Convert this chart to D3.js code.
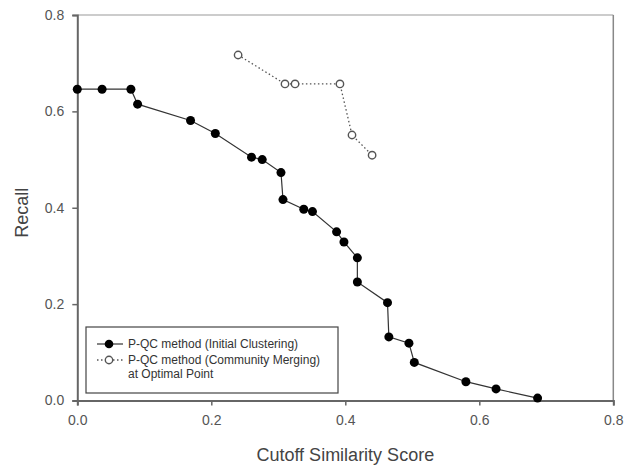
<!DOCTYPE html>
<html>
<head>
<meta charset="utf-8">
<script src="https://cdn.jsdelivr.net/npm/d3@7"></script>
<style>
  body { margin: 0; background: #fff; }
  text { font-family: Arial, "Liberation Sans", sans-serif; }
</style>
</head>
<body>
<svg id="chart"></svg>
<script>
// data
const initX = [0.000, 0.037, 0.080, 0.090, 0.169, 0.206, 0.260, 0.276, 0.304, 0.307, 0.338, 0.351,
               0.387, 0.398, 0.418, 0.418, 0.463, 0.465, 0.495, 0.503, 0.580, 0.625, 0.687];
const initY = [0.646, 0.646, 0.646, 0.615, 0.581, 0.554, 0.505, 0.500, 0.473, 0.417, 0.397, 0.392,
               0.350, 0.329, 0.296, 0.246, 0.203, 0.132, 0.119, 0.079, 0.039, 0.024, 0.005];
const mergeX = [0.240, 0.310, 0.325, 0.392, 0.410, 0.440];
const mergeY = [0.717, 0.657, 0.657, 0.657, 0.551, 0.509];
const xTicks = [0.0, 0.2, 0.4, 0.6, 0.8];
const yTicks = [0.0, 0.2, 0.4, 0.6, 0.8];
const legendLabels = ["P-QC method (Initial Clustering)", "P-QC method (Community Merging)", "at Optimal Point"];

const width = 633, height = 465;
const margin = { top: 15, right: 20, bottom: 64.5, left: 77.3 };

const svg = d3.select('#chart')
    .attr('width', width)
    .attr('height', height);

const xScale = d3.scaleLinear().domain([0, 0.8]).range([margin.left, 613.3]);
const yScale = d3.scaleLinear().domain([0, 0.8]).range([400.5, margin.top]);

// frame (top / right lighter)
svg.append('line')
    .attr('x1', xScale(0)).attr('x2', xScale(0.8))
    .attr('y1', yScale(0.8)).attr('y2', yScale(0.8))
    .attr('stroke', '#999').attr('stroke-width', 1.2);
svg.append('line')
    .attr('x1', xScale(0.8)).attr('x2', xScale(0.8))
    .attr('y1', yScale(0.8)).attr('y2', yScale(0))
    .attr('stroke', '#888').attr('stroke-width', 1.5);

// axes
const xAxis = svg.append('g')
    .attr('transform', `translate(0,${yScale(0)})`)
    .call(d3.axisBottom(xScale).tickValues(xTicks).tickFormat(d3.format('.1f')).tickSize(5).tickPadding(10));
const yAxis = svg.append('g')
    .attr('transform', `translate(${xScale(0)},0)`)
    .call(d3.axisLeft(yScale).tickValues(yTicks).tickFormat(d3.format('.1f')).tickSize(5).tickPadding(8));

[xAxis, yAxis].forEach(a => {
    a.select('.domain').attr('stroke', '#666').attr('stroke-width', 2);
    a.selectAll('.tick line').attr('stroke', '#666').attr('stroke-width', 1.5);
    a.selectAll('.tick text').attr('fill', '#555').style('font-size', '14px');
});

// axis titles
svg.append('text')
    .attr('x', (xScale(0) + xScale(0.8)) / 2)
    .attr('y', 461)
    .attr('text-anchor', 'middle')
    .attr('fill', '#444')
    .style('font-size', '18px')
    .text('Cutoff Similarity Score');

svg.append('text')
    .attr('transform', `translate(28,${yScale(0.4) + 5}) rotate(-90)`)
    .attr('text-anchor', 'middle')
    .attr('fill', '#444')
    .style('font-size', '18px')
    .text('Recall');

// series
const initData = initX.map((x, i) => ({ x: x, y: initY[i] }));
const mergeData = mergeX.map((x, i) => ({ x: x, y: mergeY[i] }));

const line = d3.line().x(d => xScale(d.x)).y(d => yScale(d.y));

svg.append('path')
    .datum(initData)
    .attr('d', line)
    .attr('fill', 'none')
    .attr('stroke', '#333')
    .attr('stroke-width', 1.2);

svg.append('path')
    .datum(mergeData)
    .attr('d', line)
    .attr('fill', 'none')
    .attr('stroke', '#555')
    .attr('stroke-width', 1.3)
    .attr('stroke-dasharray', '1.5,2.5');

svg.selectAll('.init-dot')
    .data(initData)
    .enter()
    .append('circle')
    .attr('cx', d => xScale(d.x))
    .attr('cy', d => yScale(d.y))
    .attr('r', 4.5)
    .attr('fill', '#000');

svg.selectAll('.merge-dot')
    .data(mergeData)
    .enter()
    .append('circle')
    .attr('cx', d => xScale(d.x))
    .attr('cy', d => yScale(d.y))
    .attr('r', 3.7)
    .attr('fill', '#fff')
    .attr('stroke', '#555')
    .attr('stroke-width', 1.4);

// legend
const lg = svg.append('g');
lg.append('rect')
    .attr('x', 86).attr('y', 327)
    .attr('width', 252).attr('height', 66)
    .attr('fill', '#fff')
    .attr('stroke', '#444')
    .attr('stroke-width', 1.2);

lg.append('line')
    .attr('x1', 97).attr('x2', 123).attr('y1', 344).attr('y2', 344)
    .attr('stroke', '#333').attr('stroke-width', 1.2);
lg.append('circle')
    .attr('cx', 109).attr('cy', 344).attr('r', 4.3).attr('fill', '#000');

lg.append('line')
    .attr('x1', 97).attr('x2', 123).attr('y1', 360).attr('y2', 360)
    .attr('stroke', '#555').attr('stroke-width', 1.3).attr('stroke-dasharray', '1.5,2.5');
lg.append('circle')
    .attr('cx', 109).attr('cy', 360).attr('r', 3.7)
    .attr('fill', '#fff').attr('stroke', '#555').attr('stroke-width', 1.4);

lg.selectAll('.legend-label')
    .data(legendLabels)
    .enter()
    .append('text')
    .attr('x', 128)
    .attr('y', (d, i) => [348, 364, 378][i])
    .attr('fill', '#333')
    .style('font-size', '12px')
    .text(d => d);
</script>
</body>
</html>
